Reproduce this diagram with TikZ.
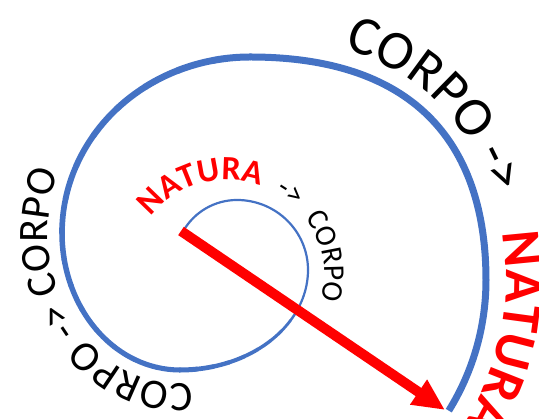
\documentclass[tikz,border=0pt]{standalone}
\usepackage{fontspec}
\setmainfont{Carlito}
\usetikzlibrary{arrows.meta,decorations.text}
\definecolor{spiralblue}{HTML}{4472C4}
\definecolor{natred}{HTML}{FF0000}
\newcommand\fsLeft{\fontsize{42}{42}\selectfont}
\newcommand\fsTop{\fontsize{55}{55}\selectfont}
\newcommand\fsNat{\fontsize{55}{55}\selectfont\bfseries}
\newcommand\fsInN{\fontsize{34}{34}\selectfont\bfseries}
\newcommand\fsInC{\fontsize{30}{30}\selectfont}
\begin{document}
\begin{tikzpicture}[x=1pt,y=1pt,
  spiral/.style={draw=spiralblue, line cap=round},
  redarrow/.style={draw=natred, line width=10pt, -{Triangle[length=32pt,width=28pt]}, fill=natred}]
\useasboundingbox (0,0) rectangle (539,419);

% ---- spiral (tapered) ----
\draw[spiral, line width=2.2pt] (183.3,188) arc[start angle=150, end angle=90, radius=62]
  arc[start angle=90, end angle=0, x radius=71, y radius=70];
\foreach \i in {1,...,12}{
  \pgfmathsetmacro\sa{-7.5*(\i-1)}
  \pgfmathsetmacro\ea{-7.5*\i}
  \pgfmathsetmacro\w{2.2+2.8*max(0,\i-3)/9}
  \draw[spiral, line width=\w pt] ([shift={(180,149)}]\sa:128 and 100)
     arc[start angle=\sa, end angle=\ea, x radius=128, y radius=100];
}
\foreach \i in {1,...,8}{
  \pgfmathsetmacro\sa{-90-11.25*(\i-1)}
  \pgfmathsetmacro\ea{-90-11.25*\i}
  \pgfmathsetmacro\w{5+0.5*\i/8}
  \draw[spiral, line width=\w pt] ([shift={(180,186)}]\sa:118 and 137)
     arc[start angle=\sa, end angle=\ea, x radius=118, y radius=137];
}
\foreach \i in {1,...,8}{
  \pgfmathsetmacro\sa{180-11.25*(\i-1)}
  \pgfmathsetmacro\ea{180-11.25*\i}
  \pgfmathsetmacro\w{5.5+1.5*\i/8}
  \draw[spiral, line width=\w pt] ([shift={(250,186)}]\sa:188 and 176)
     arc[start angle=\sa, end angle=\ea, x radius=188, y radius=176];
}
\draw[draw=spiralblue, line width=7pt] (250,362) .. controls (430,362) and (486,259) .. (486,139)
  arc[start angle=0, end angle=-31.8, radius=248];

% ---- texts along the spiral ----
\path[decorate, decoration={text along path, text color=black,
    text={|\fsLeft|CORPO -> CORPO}}]
  (192.9,35.7) arc[start angle=-84.4, end angle=-180, x radius=132, y radius=151]
  arc[start angle=180, end angle=80, x radius=202, y radius=190];

\path[decorate, decoration={text along path, text color=black,
    text align={left indent=95pt}, text={|\fsTop|CORPO ->}}]
  (250,382) .. controls (440,382) and (506,255) .. (506,139)
  arc[start angle=0, end angle=-45, radius=268];
\path[decorate, decoration={text along path, text color=natred,
    text align={left indent=352pt}, text={|\fsNat|NATURA}}]
  (250,382) .. controls (440,382) and (506,255) .. (506,139)
  arc[start angle=0, end angle=-45, radius=268];

\path[decorate, decoration={text along path, text color=natred,
    text={|\fsInN|NATURA}}]
  ([shift={(227.5,143.3)}]142.6:96) arc[start angle=142.6, end angle=40, radius=96];
\path[decorate, decoration={text along path, text color=black,
    text={|\fsInC|->}}]
  ([shift={(227.5,143.3)}]60:96) arc[start angle=60, end angle=20, radius=96];
\path[decorate, decoration={text along path, text color=black,
    text={|\fsInC|CORPO}}]
  ([shift={(227.5,143.3)}]37:97) arc[start angle=37, end angle=-40, radius=97];

% ---- red arrow ----
\coordinate (tail) at (181,188);
\coordinate (tip) at (445,9);
\draw[redarrow] (tail) -- (tip);
\end{tikzpicture}
\end{document}
